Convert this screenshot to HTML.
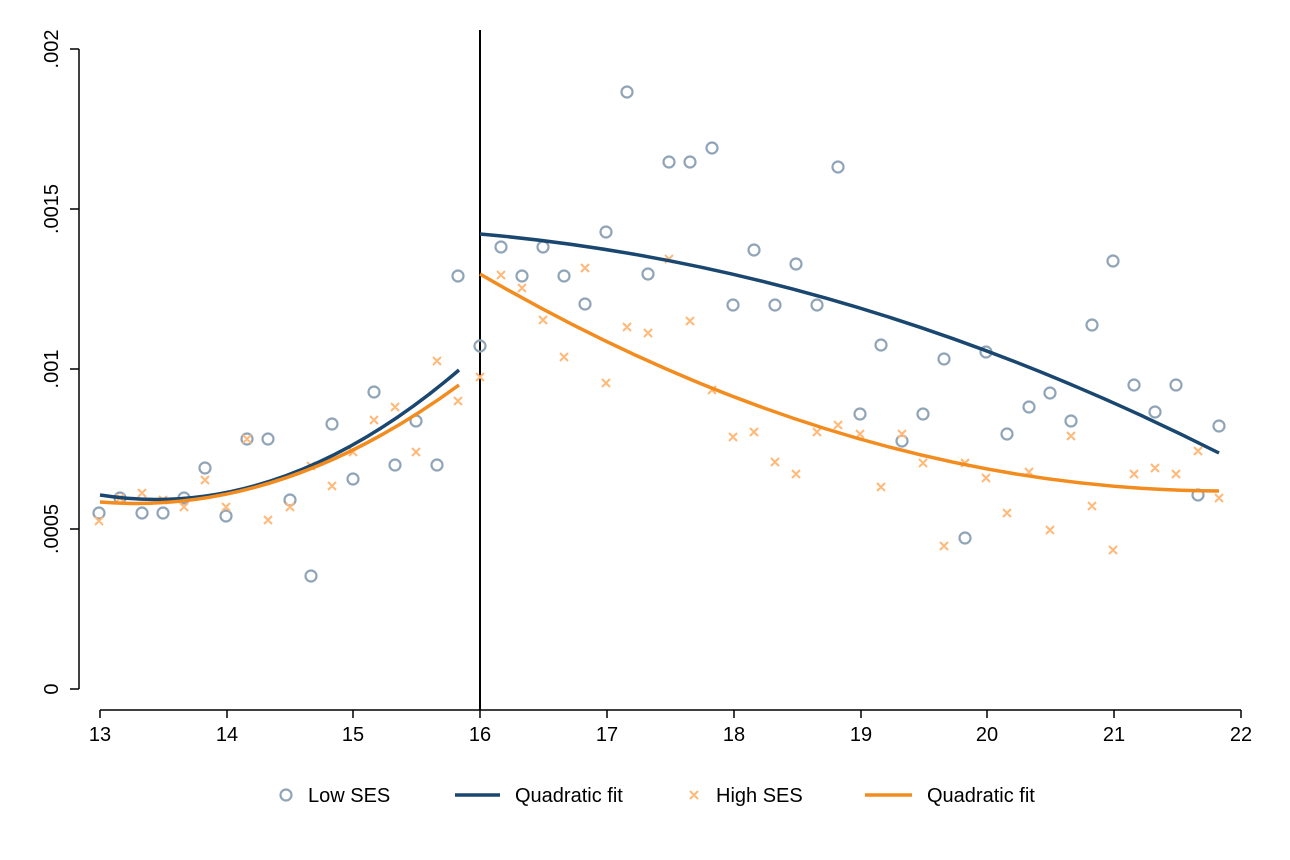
<!DOCTYPE html>
<html><head><meta charset="utf-8"><style>html,body{margin:0;padding:0;background:#fff}svg{display:block}text{font-family:"Liberation Sans",sans-serif;fill:#000}</style></head>
<body>
<svg width="1290" height="860" viewBox="0 0 1290 860">
<rect width="1290" height="860" fill="#fff"/>
<g stroke="#000" stroke-width="1.5">
<line x1="79" y1="49" x2="79" y2="689"/>
<line x1="70" y1="49" x2="79" y2="49"/><line x1="70" y1="209" x2="79" y2="209"/><line x1="70" y1="369" x2="79" y2="369"/><line x1="70" y1="529" x2="79" y2="529"/><line x1="70" y1="689" x2="79" y2="689"/>
<line x1="100" y1="710" x2="1241" y2="710"/>
<line x1="100" y1="710" x2="100" y2="718"/><line x1="227" y1="710" x2="227" y2="718"/><line x1="353" y1="710" x2="353" y2="718"/><line x1="480" y1="710" x2="480" y2="718"/><line x1="607" y1="710" x2="607" y2="718"/><line x1="734" y1="710" x2="734" y2="718"/><line x1="861" y1="710" x2="861" y2="718"/><line x1="987" y1="710" x2="987" y2="718"/><line x1="1114" y1="710" x2="1114" y2="718"/><line x1="1241" y1="710" x2="1241" y2="718"/>
<line x1="480" y1="30" x2="480" y2="710" stroke-width="2"/>
</g>
<g font-size="20" text-anchor="middle">
<text transform="translate(58,49) rotate(-90)">.002</text>
<text transform="translate(58,209) rotate(-90)">.0015</text>
<text transform="translate(58,369) rotate(-90)">.001</text>
<text transform="translate(58,529) rotate(-90)">.0005</text>
<text transform="translate(58,689) rotate(-90)">0</text>
<text x="100" y="741">13</text><text x="227" y="741">14</text><text x="353" y="741">15</text><text x="480" y="741">16</text><text x="607" y="741">17</text><text x="734" y="741">18</text><text x="861" y="741">19</text><text x="987" y="741">20</text><text x="1114" y="741">21</text><text x="1241" y="741">22</text>
</g>
<g fill="none" stroke="#90a4b8" stroke-width="2.2">
<circle cx="99" cy="513" r="5.5"/><circle cx="120" cy="498" r="5.5"/><circle cx="142" cy="513" r="5.5"/><circle cx="163" cy="513" r="5.5"/><circle cx="184" cy="498" r="5.5"/><circle cx="205" cy="468" r="5.5"/><circle cx="226" cy="516" r="5.5"/><circle cx="247" cy="439" r="5.5"/><circle cx="268" cy="439" r="5.5"/><circle cx="290" cy="500" r="5.5"/><circle cx="311" cy="576" r="5.5"/><circle cx="332" cy="424" r="5.5"/><circle cx="353" cy="479" r="5.5"/><circle cx="374" cy="392" r="5.5"/><circle cx="395" cy="465" r="5.5"/><circle cx="416" cy="421" r="5.5"/><circle cx="437" cy="465" r="5.5"/><circle cx="458" cy="276" r="5.5"/><circle cx="480" cy="346" r="5.5"/><circle cx="501" cy="247" r="5.5"/><circle cx="522" cy="276" r="5.5"/><circle cx="543" cy="247" r="5.5"/><circle cx="564" cy="276" r="5.5"/><circle cx="585" cy="304" r="5.5"/><circle cx="606" cy="232" r="5.5"/><circle cx="627" cy="92" r="5.5"/><circle cx="648" cy="274" r="5.5"/><circle cx="669" cy="162" r="5.5"/><circle cx="690" cy="162" r="5.5"/><circle cx="712" cy="148" r="5.5"/><circle cx="733" cy="305" r="5.5"/><circle cx="754" cy="250" r="5.5"/><circle cx="775" cy="305" r="5.5"/><circle cx="796" cy="264" r="5.5"/><circle cx="817" cy="305" r="5.5"/><circle cx="838" cy="167" r="5.5"/><circle cx="860" cy="414" r="5.5"/><circle cx="881" cy="345" r="5.5"/><circle cx="902" cy="441" r="5.5"/><circle cx="923" cy="414" r="5.5"/><circle cx="944" cy="359" r="5.5"/><circle cx="965" cy="538" r="5.5"/><circle cx="986" cy="352" r="5.5"/><circle cx="1007" cy="434" r="5.5"/><circle cx="1029" cy="407" r="5.5"/><circle cx="1050" cy="393" r="5.5"/><circle cx="1071" cy="421" r="5.5"/><circle cx="1092" cy="325" r="5.5"/><circle cx="1113" cy="261" r="5.5"/><circle cx="1134" cy="385" r="5.5"/><circle cx="1155" cy="412" r="5.5"/><circle cx="1176" cy="385" r="5.5"/><circle cx="1198" cy="495" r="5.5"/><circle cx="1219" cy="426" r="5.5"/>
<circle cx="286" cy="795" r="5.5"/>
</g>
<g stroke="#ffb878" stroke-width="2">
<path d="M95,517l8,8m0,-8l-8,8 M116,494l8,8m0,-8l-8,8 M138,489l8,8m0,-8l-8,8 M159,496l8,8m0,-8l-8,8 M180,503l8,8m0,-8l-8,8 M201,476l8,8m0,-8l-8,8 M222,503l8,8m0,-8l-8,8 M243,435l8,8m0,-8l-8,8 M264,516l8,8m0,-8l-8,8 M286,503l8,8m0,-8l-8,8 M307,462l8,8m0,-8l-8,8 M328,482l8,8m0,-8l-8,8 M349,448l8,8m0,-8l-8,8 M370,416l8,8m0,-8l-8,8 M391,403l8,8m0,-8l-8,8 M412,448l8,8m0,-8l-8,8 M433,357l8,8m0,-8l-8,8 M454,397l8,8m0,-8l-8,8 M476,373l8,8m0,-8l-8,8 M497,271l8,8m0,-8l-8,8 M518,284l8,8m0,-8l-8,8 M539,316l8,8m0,-8l-8,8 M560,353l8,8m0,-8l-8,8 M581,264l8,8m0,-8l-8,8 M602,379l8,8m0,-8l-8,8 M623,323l8,8m0,-8l-8,8 M644,329l8,8m0,-8l-8,8 M665,255l8,8m0,-8l-8,8 M686,317l8,8m0,-8l-8,8 M708,386l8,8m0,-8l-8,8 M729,433l8,8m0,-8l-8,8 M750,428l8,8m0,-8l-8,8 M771,458l8,8m0,-8l-8,8 M792,470l8,8m0,-8l-8,8 M813,428l8,8m0,-8l-8,8 M834,421l8,8m0,-8l-8,8 M856,430l8,8m0,-8l-8,8 M877,483l8,8m0,-8l-8,8 M898,430l8,8m0,-8l-8,8 M919,459l8,8m0,-8l-8,8 M940,542l8,8m0,-8l-8,8 M961,459l8,8m0,-8l-8,8 M982,474l8,8m0,-8l-8,8 M1003,509l8,8m0,-8l-8,8 M1025,468l8,8m0,-8l-8,8 M1046,526l8,8m0,-8l-8,8 M1067,432l8,8m0,-8l-8,8 M1088,502l8,8m0,-8l-8,8 M1109,546l8,8m0,-8l-8,8 M1130,470l8,8m0,-8l-8,8 M1151,464l8,8m0,-8l-8,8 M1172,470l8,8m0,-8l-8,8 M1194,447l8,8m0,-8l-8,8 M1215,494l8,8m0,-8l-8,8 M690,791l8,8m0,-8l-8,8"/>
</g>
<g fill="none" stroke-width="3.5">
<path stroke="#1a476f" d="M100,495 Q279.5,523.5 459,370"/>
<path stroke="#f28c1f" d="M100,502 Q279.5,516.5 459,385"/>
<path stroke="#1a476f" d="M480,234 Q849.5,266.5 1219,453"/>
<path stroke="#f28c1f" d="M480,274 Q849.5,489.5 1219,491"/>
<line x1="455" y1="795" x2="500" y2="795" stroke="#1a476f"/>
<line x1="865" y1="795" x2="912" y2="795" stroke="#f28c1f"/>
</g>
<g font-size="20">
<text x="308" y="802">Low SES</text>
<text x="515" y="802">Quadratic fit</text>
<text x="716" y="802">High SES</text>
<text x="927" y="802">Quadratic fit</text>
</g>
</svg>
</body></html>
